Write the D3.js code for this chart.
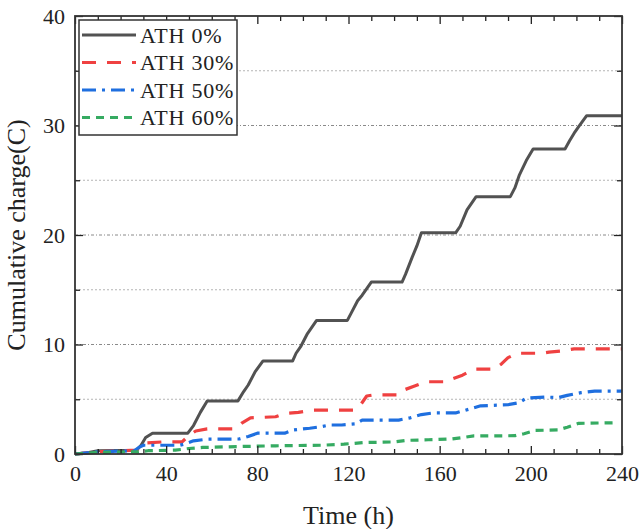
<!DOCTYPE html>
<html>
<head>
<meta charset="utf-8">
<script src="https://cdn.jsdelivr.net/npm/d3@7"></script>
<style>
  body { margin: 0; background: #fff; }
  svg { display: block; font-family: "Liberation Serif", "Times New Roman", serif; }
</style>
</head>
<body>
<div id="chart"></div>
<script>
// cumulative charge (C) vs time (h)
const ath0 = [[0,0],[5,0.1],[10,0.3],[27,0.35],[29,0.8],[31,1.5],[34,1.9],[49.5,1.9],[52,2.6],[55,3.8],[58,4.85],[71.5,4.85],[74,5.7],[76,6.3],[79,7.5],[82.5,8.5],[95.5,8.5],[97,9.2],[99,9.8],[102,11],[106,12.2],[119.5,12.2],[121,12.8],[124,14],[126,14.5],[130,15.7],[143.5,15.7],[145,16.4],[148,18],[150,19],[152,20.2],[167,20.2],[169,20.8],[172,22.3],[176,23.5],[191,23.5],[193,24.3],[195,25.5],[198,26.8],[201,27.85],[215,27.85],[217,28.6],[219,29.3],[221,29.9],[224.5,30.9],[240,30.9]];
const ath30 = [[0,0],[10,0.2],[27,0.35],[29,0.7],[31,1.0],[38,1.1],[47,1.1],[50,1.7],[53,2.1],[58,2.3],[70,2.3],[73,2.8],[77,3.3],[88,3.4],[92,3.7],[98,3.8],[104,4.0],[122,4.0],[125,4.4],[128,5.3],[131,5.4],[142,5.4],[145,5.9],[149,6.2],[154,6.6],[163,6.6],[166,6.9],[170,7.2],[175,7.75],[184,7.75],[187,8.2],[190,8.8],[194,9.2],[205,9.2],[208,9.3],[213,9.4],[219,9.6],[240,9.6]];
const ath50 = [[0,0],[10,0.2],[26,0.3],[28,0.6],[30,0.8],[46,0.8],[48,0.9],[52,1.2],[58,1.35],[72,1.37],[76,1.6],[80,1.9],[92,1.9],[96,2.2],[103,2.35],[108,2.5],[112,2.65],[117,2.65],[123,2.75],[126,3.1],[142,3.1],[147,3.3],[152,3.6],[157,3.75],[167,3.75],[173,4.1],[178,4.4],[190,4.5],[195,4.7],[198,5.1],[207,5.2],[212,5.15],[216,5.35],[222,5.6],[228,5.75],[240,5.75]];
const ath60 = [[0,0],[10,0.15],[28,0.2],[32,0.3],[44,0.35],[50,0.5],[56,0.6],[66,0.65],[76,0.7],[88,0.75],[108,0.8],[118,0.9],[127,1.05],[140,1.1],[146,1.25],[155,1.3],[165,1.37],[170,1.5],[175,1.65],[193,1.67],[197,1.85],[202,2.15],[212,2.2],[216,2.45],[221,2.8],[236,2.85]];

const seriesNames = ["ATH 0%", "ATH 30%", "ATH 50%", "ATH 60%"];
const xTicks = [0, 40, 80, 120, 160, 200, 240];
const yTicks = [0, 10, 20, 30, 40];

const W = 641, H = 529;
const margin = { top: 16, right: 19, bottom: 75, left: 75 };
const FONT = "'Liberation Serif', 'Times New Roman', serif";

const styles = [
    { color: "#525252", dash: null, width: 3 },
    { color: "#ef4141", dash: "14,11", width: 3.2 },
    { color: "#1f6fdf", dash: "14,6,3,6", width: 3.2 },
    { color: "#36ab62", dash: "8,6", width: 3.2 }
];

const svg = d3.select("#chart").append("svg")
    .attr("width", W)
    .attr("height", H)
    .attr("font-family", FONT);

const x = d3.scaleLinear().domain([0, 240]).range([margin.left, W - margin.right]);
const y = d3.scaleLinear().domain([0, 40]).range([H - margin.bottom, margin.top]);

// grid lines
const gridVals = d3.range(5, 40, 5);
svg.append("g")
    .selectAll("line")
    .data(gridVals)
    .join("line")
    .attr("x1", x(0)).attr("x2", x(240))
    .attr("y1", d => y(d)).attr("y2", d => y(d))
    .attr("stroke", d => d % 10 === 0 ? "#8a8a8a" : "#b5b5b5")
    .attr("stroke-width", 1)
    .attr("stroke-dasharray", d => d % 10 === 0 ? "3,2,1,2" : "2,2");

// lines
const line = d3.line().x(d => x(d[0])).y(d => y(d[1]));
const allSeries = [ath0, ath30, ath50, ath60];
allSeries.forEach((s, i) => {
    svg.append("path")
        .datum(s)
        .attr("fill", "none")
        .attr("stroke", styles[i].color)
        .attr("stroke-width", styles[i].width)
        .attr("stroke-dasharray", styles[i].dash)
        .attr("stroke-linejoin", "round")
        .attr("d", line);
});

// axes, ticks inward on all four sides
const xMinor = d3.range(0, 241, 10).filter(d => d % 40 !== 0);
const yMinor = d3.range(5, 40, 10);

function styleAxis(g) {
    g.attr("font-family", FONT).attr("font-size", 22);
    g.select(".domain").remove();
    g.selectAll(".tick line").attr("stroke", "#222").attr("stroke-width", 1.3);
    g.selectAll("text").attr("fill", "#222");
}

svg.append("g")
    .attr("transform", `translate(0,${y(0)})`)
    .call(d3.axisBottom(x).tickValues(xTicks).tickSize(-8).tickPadding(11).tickFormat(d3.format("d")))
    .call(styleAxis);
svg.append("g")
    .attr("transform", `translate(0,${y(0)})`)
    .call(d3.axisBottom(x).tickValues(xMinor).tickSize(-5).tickFormat(""))
    .call(styleAxis);
svg.append("g")
    .attr("transform", `translate(0,${y(40)})`)
    .call(d3.axisTop(x).tickValues(xTicks).tickSize(-8).tickFormat(""))
    .call(styleAxis);
svg.append("g")
    .attr("transform", `translate(0,${y(40)})`)
    .call(d3.axisTop(x).tickValues(xMinor).tickSize(-5).tickFormat(""))
    .call(styleAxis);

svg.append("g")
    .attr("transform", `translate(${x(0)},0)`)
    .call(d3.axisLeft(y).tickValues(yTicks).tickSize(-8).tickPadding(10).tickFormat(d3.format("d")))
    .call(styleAxis);
svg.append("g")
    .attr("transform", `translate(${x(0)},0)`)
    .call(d3.axisLeft(y).tickValues(yMinor).tickSize(-5).tickFormat(""))
    .call(styleAxis);
svg.append("g")
    .attr("transform", `translate(${x(240)},0)`)
    .call(d3.axisRight(y).tickValues(yTicks).tickSize(-8).tickFormat(""))
    .call(styleAxis);
svg.append("g")
    .attr("transform", `translate(${x(240)},0)`)
    .call(d3.axisRight(y).tickValues(yMinor).tickSize(-5).tickFormat(""))
    .call(styleAxis);

// frame
svg.append("rect")
    .attr("x", x(0)).attr("y", y(40))
    .attr("width", x(240) - x(0)).attr("height", y(0) - y(40))
    .attr("fill", "none")
    .attr("stroke", "#333")
    .attr("stroke-width", 1.8);

// axis titles
svg.append("text")
    .attr("x", (x(0) + x(240)) / 2)
    .attr("y", 524)
    .attr("text-anchor", "middle")
    .attr("fill", "#222")
    .style("font-size", "26px")
    .text("Time (h)");

svg.append("text")
    .attr("transform", `translate(25,${y(20)}) rotate(-90)`)
    .attr("text-anchor", "middle")
    .attr("fill", "#222")
    .style("font-size", "26px")
    .text("Cumulative charge(C)");

// legend
const legend = svg.append("g").attr("transform", "translate(79,20)");
legend.append("rect")
    .attr("width", 158).attr("height", 115)
    .attr("fill", "#fff")
    .attr("stroke", "#333")
    .attr("stroke-width", 1.5);

seriesNames.forEach((name, i) => {
    const ly = 15 + i * 27.5;
    legend.append("line")
        .attr("x1", 3).attr("x2", 57)
        .attr("y1", ly).attr("y2", ly)
        .attr("stroke", styles[i].color)
        .attr("stroke-width", styles[i].width)
        .attr("stroke-dasharray", styles[i].dash);
    legend.append("text")
        .attr("x", 61).attr("y", ly)
        .attr("dy", "0.35em")
        .attr("fill", "#222")
        .style("font-size", "22px")
        .style("letter-spacing", "0.8px")
        .text(name);
});
</script>
</body>
</html>
